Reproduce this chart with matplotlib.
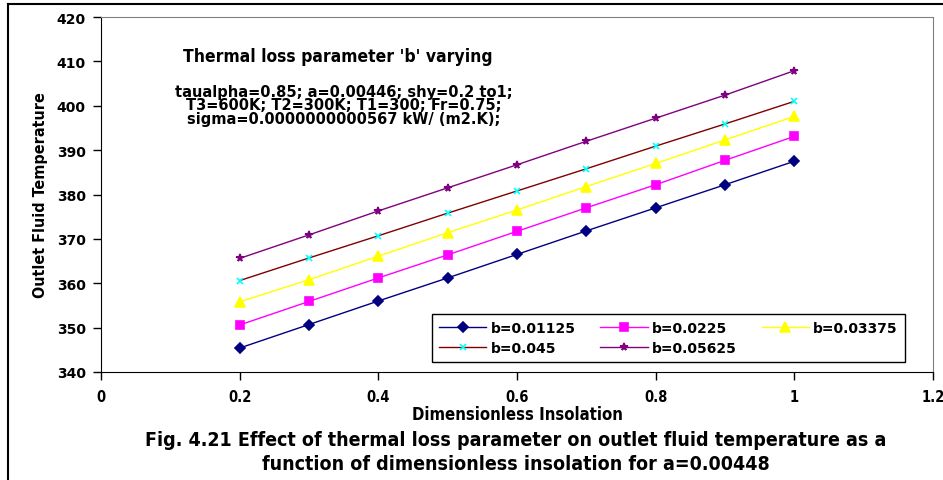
import numpy as np
import matplotlib
matplotlib.use("Agg")
import matplotlib.pyplot as plt
from matplotlib.lines import Line2D

# data
x = [0.2, 0.3, 0.4, 0.5, 0.6, 0.7, 0.8, 0.9, 1.0]
b_01125 = [345.4, 350.7, 356.0, 361.2, 366.5, 371.8, 377.0, 382.2, 387.5]
b_0225 = [350.6, 355.9, 361.2, 366.4, 371.7, 377.0, 382.2, 387.7, 393.1]
b_03375 = [355.8, 360.8, 366.1, 371.4, 376.5, 381.8, 387.0, 392.3, 397.6]
b_045 = [360.6, 365.7, 370.7, 375.8, 380.8, 385.8, 390.9, 395.9, 401.0]
b_05625 = [365.6, 370.9, 376.3, 381.5, 386.7, 392.0, 397.2, 402.4, 407.9]
labels = ['b=0.01125', 'b=0.0225', 'b=0.03375', 'b=0.045', 'b=0.05625']

xticks = [0, 0.2, 0.4, 0.6, 0.8, 1, 1.2]
xticklabels = ['0', '0.2', '0.4', '0.6', '0.8', '1', '1.2']
yticks = [340, 350, 360, 370, 380, 390, 400, 410, 420]

W, H = 943, 481
cond = dict(family='DejaVu Sans', fontstretch='condensed', fontweight='bold')
wide = dict(family='DejaVu Sans', fontweight='bold')

fig = plt.figure(figsize=(W / 100, H / 100), dpi=100)
ax = fig.add_axes([101 / W, 1 - 373 / H, (933 - 101) / W, (373 - 18) / H])

series = [b_01125, b_0225, b_03375, b_045, b_05625]
lcol = ['#000080', '#FF00FF', '#FFFF00', '#800000', '#800080']
mcol = ['#000080', '#FF00FF', '#FFFF00', '#00FFFF', '#800080']
mk = ['D', 's', '^', 'x', '*']
ms = [5, 5.5, 7, 5, 5.5]
lines = []
for s, lab, lc, mc, m, z in zip(series, labels, lcol, mcol, mk, ms):
    ln, = ax.plot(x, s, color=lc, lw=1, marker=m, ms=z, mfc=mc, mec=mc, mew=1.2, label=lab)
    lines.append(ln)

ax.set_xlim(0, 1.2)
ax.set_ylim(340, 420)
ax.set_xticks(xticks)
ax.set_xticklabels(xticklabels, fontsize=10.5, **cond)
ax.set_yticks(yticks)
ax.set_yticklabels([str(v) for v in yticks], fontsize=10, **wide)
ax.tick_params(axis='x', length=6, width=1, pad=6)
ax.tick_params(axis='y', length=6, width=1, pad=5)
for sp in ['left', 'bottom']:
    ax.spines[sp].set_color('black')
for sp in ['top', 'right']:
    ax.spines[sp].set_color('#808080')

ax.set_xlabel('Dimensionless Insolation', fontsize=12, labelpad=1, **cond)
ax.set_ylabel('Outlet Fluid Temperature', fontsize=11.5, labelpad=6, **cond)

# row-major order like the reference legend
order = [0, 3, 1, 4, 2]
leg = ax.legend([lines[i] for i in order], [labels[i] for i in order], ncol=3, loc='lower left',
                bbox_to_anchor=(0.398, 0.028, 0.568, 0.135), mode='expand', borderaxespad=0,
                prop={'family': 'DejaVu Sans', 'weight': 'bold', 'size': 10}, fancybox=False,
                edgecolor='black', framealpha=1, handlelength=3.4, handletextpad=0.3,
                borderpad=0.5, labelspacing=0.45, columnspacing=1.0)
leg.get_frame().set_linewidth(1)

fig.text(338 / W, 1 - 57 / H, "Thermal loss parameter 'b' varying",
         fontsize=12.5, ha='center', va='center', **cond)
fig.text(344 / W, 1 - 106 / H,
         "taualpha=0.85; a=0.00446; shy=0.2 to1;\nT3=600K; T2=300K; T1=300; Fr=0.75;\n"
         "sigma=0.0000000000567 kW/ (m2.K);",
         fontsize=10.5, ha='center', va='center', linespacing=0.86, **wide)

fig.text(516 / W, 1 - 441 / H,
         "Fig. 4.21 Effect of thermal loss parameter on outlet fluid temperature as a",
         fontsize=14, ha='center', va='center', **cond)
fig.text(516 / W, 1 - 464 / H,
         "function of dimensionless insolation for a=0.00448",
         fontsize=14, ha='center', va='center', **cond)

# outer frame of the chart object
fig.add_artist(Line2D([8 / W, 8 / W], [0, 1 - 5 / H], color='black', lw=1.5))
fig.add_artist(Line2D([8 / W, 1], [1 - 5 / H, 1 - 5 / H], color='black', lw=1.5))

fig.savefig('out.png', dpi=100)
